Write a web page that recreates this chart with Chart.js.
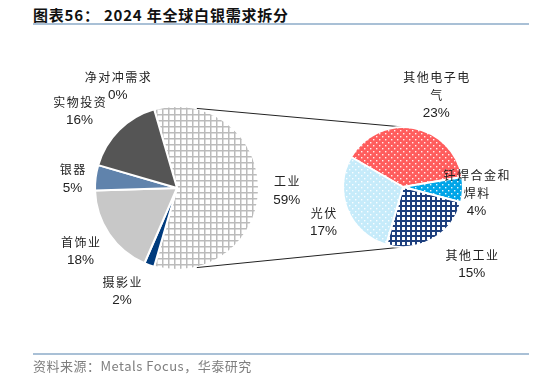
<!DOCTYPE html>
<html>
<head>
<meta charset="utf-8">
<script src="https://cdn.jsdelivr.net/npm/chart.js@4.4.1/dist/chart.umd.min.js"></script>
<style>
  html,body{margin:0;padding:0;background:#fff;}
  #wrap{position:relative;width:534px;height:378px;overflow:hidden;}
  #wrap canvas{position:absolute;left:0;top:0;}
  #title{position:absolute;left:33px;top:4px;font:bold 15px "Noto Sans CJK SC",sans-serif;color:#111;white-space:nowrap;letter-spacing:0.8px;}
  #tline{position:absolute;left:33px;top:23px;width:496px;height:2px;background:#a9c0d6;}
  #fline{position:absolute;left:33px;top:353px;width:496px;height:2px;background:#a9c0d6;}
  #foot{position:absolute;left:33px;top:356px;font:13px "Noto Sans CJK SC","Liberation Sans",sans-serif;color:#7f7f7f;white-space:nowrap;letter-spacing:0.5px;}
</style>
</head>
<body>
<div id="wrap">
  <div id="title">图表56： 2024 年全球白银需求拆分</div>
  <div id="tline"></div>
  <canvas id="left" width="534" height="378"></canvas>
  <canvas id="right" width="534" height="378"></canvas>
  <div id="fline"></div>
  <div id="foot">资料来源：Metals Focus，华泰研究</div>
</div>
<script>
// ---- data ----
const mainCategories = ['工业', '摄影业', '首饰业', '银器', '实物投资', '净对冲需求'];
const mainValues = [59, 2, 18, 5, 16, 0];
const subCategories = ['其他电子电气', '钎焊合金和焊料', '其他工业', '光伏'];
const subValues = [23, 4, 15, 17];

// label text lines (display wrapping)
const mainLabelLines = [['工业'], ['摄影业'], ['首饰业'], ['银器'], ['实物投资'], ['净对冲需求']];
const subLabelLines = [['其他电子电', '气'], ['钎焊合金和', '焊料'], ['其他工业'], ['光伏']];

// ---- styles ----
function makePattern(size, bg, draw) {
  const c = document.createElement('canvas');
  c.width = size; c.height = size;
  const x = c.getContext('2d');
  x.fillStyle = bg; x.fillRect(0, 0, size, size);
  draw(x);
  return x.createPattern(c, 'repeat');
}
const ctx0 = document.getElementById('left').getContext('2d');
const gridGray = makePattern(6, '#ffffff', x => { x.fillStyle = '#bbbbbb'; x.fillRect(0, 0, 6, 1.5); x.fillRect(0, 0, 1.5, 6); });
const gridNavy = makePattern(5, '#ffffff', x => { x.fillStyle = '#1d3f7e'; x.fillRect(0, 0, 5, 2); x.fillRect(0, 0, 2, 5); });
const dots = (bg) => makePattern(6, bg, x => { x.fillStyle = 'rgba(255,255,255,0.9)'; x.fillRect(1, 1, 1.4, 1.4); x.fillRect(4, 4, 1.4, 1.4); });

const mainColors = [gridGray, '#003b7d', '#c8c8c8', '#6083ac', '#555555', '#999999'];
const subColors = [dots('#ff5d5d'), dots('#00a5e8'), gridNavy, dots('#c6ebfa')];

// label placement: angle tweak (deg) and distance (in radii) from slice middle
const mainLabelPlace = [[1.5, 1.34], [8.2, 1.43], [0.8, 1.41], [-2.2, 1.28], [-7, 1.51], [-14.1, 1.43]];
const subLabelPlace = [[9.8, 1.62], [2.1, 1.23], [-12, 1.73], [-2.1, 1.45]];

function labelPlugin(id, lines, place, values) {
  return {
    id: id,
    afterDatasetsDraw(chart) {
      const c = chart.ctx;
      const meta = chart.getDatasetMeta(0);
      c.save();
      c.fillStyle = '#222';
      c.textAlign = 'center';
      c.textBaseline = 'middle';
      meta.data.forEach((arc, i) => {
        const mid = (arc.startAngle + arc.endAngle) / 2 + place[i][0] * Math.PI / 180;
        const r = arc.outerRadius * place[i][1];
        const cx = arc.x + Math.cos(mid) * r;
        const cy = arc.y + Math.sin(mid) * r;
        const all = lines[i].map(t => ({t, cjk: true})).concat([{t: values[i] + '%', cjk: false}]);
        const lh = 18;
        let y = cy - (all.length - 1) * lh / 2;
        all.forEach(l => {
          if (l.cjk) { c.font = '12px "Noto Sans CJK SC", sans-serif'; c.letterSpacing = '1.5px'; }
          else { c.font = '13.5px "Liberation Sans", Arial, sans-serif'; c.letterSpacing = '0px'; }
          c.fillText(l.t, cx + (l.cjk ? 0.75 : 0), y);
          y += lh;
        });
      });
      c.restore();
    }
  };
}

const common = {
  responsive: false,
  animation: false,
  devicePixelRatio: 1,
  plugins: { legend: { display: false }, tooltip: { enabled: false } },
  events: []
};

const leftChart = new Chart(ctx0, {
  type: 'pie',
  data: { labels: mainCategories, datasets: [{ data: mainValues, backgroundColor: mainColors, borderColor: '#ffffff', borderWidth: 2 }] },
  options: Object.assign({}, common, {
    rotation: -16.2,
    layout: { padding: { left: 94, top: 105, right: 274, bottom: 107 } }
  }),
  plugins: [labelPlugin('mainLabels', mainLabelLines, mainLabelPlace, mainValues)]
});

const connector = {
  id: 'connector',
  beforeDatasetsDraw(chart) {
    const a = leftChart.getDatasetMeta(0).data[0];
    const b = chart.getDatasetMeta(0).data[0];
    const R1 = a.outerRadius, R2 = b.outerRadius;
    const ang = 76 * Math.PI / 180;
    const c = chart.ctx;
    c.save();
    c.strokeStyle = '#222';
    c.lineWidth = 1;
    c.beginPath();
    c.moveTo(a.x + Math.cos(-ang) * R1, a.y + Math.sin(-ang) * R1);
    c.lineTo(b.x, b.y - R2);
    c.moveTo(a.x + Math.cos(ang) * R1, a.y + Math.sin(ang) * R1);
    c.lineTo(b.x, b.y + R2);
    c.stroke();
    c.restore();
  }
};

new Chart(document.getElementById('right').getContext('2d'), {
  type: 'pie',
  data: { labels: subCategories, datasets: [{ data: subValues, backgroundColor: subColors, borderColor: '#ffffff', borderWidth: 2 }] },
  options: Object.assign({}, common, {
    rotation: -60,
    layout: { padding: { left: 342, top: 126, right: 70, bottom: 130 } }
  }),
  plugins: [connector, labelPlugin('subLabels', subLabelLines, subLabelPlace, subValues)]
});
</script>
</body>
</html>
